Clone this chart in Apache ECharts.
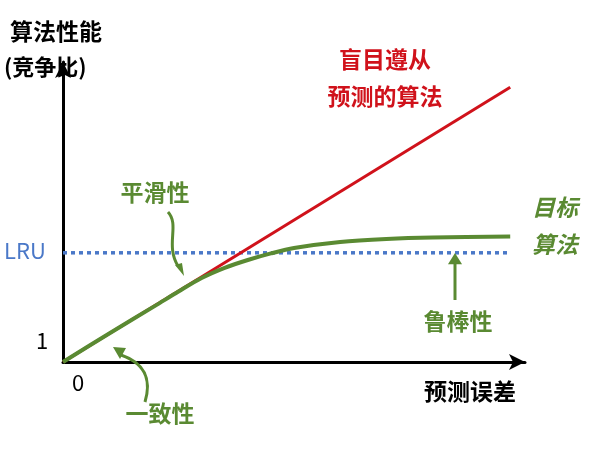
<!DOCTYPE html>
<html><head><meta charset="utf-8">
<script src="https://cdn.jsdelivr.net/npm/echarts@6/dist/echarts.min.js"></script>
<style>html,body{margin:0;padding:0;background:#fff}#c{width:590px;height:456px}</style>
</head><body><div id="c"></div>
<script>
const redLine = [[0,0],[9.68,9.16]];
const greenCurve = [[0,0],[1,0.95],[2,1.88],[2.5,2.35],[3,2.8],[3.5,3.14],[4,3.4],[4.5,3.62],[5,3.8],[6,4.0],[7,4.1],[8,4.15],[9.68,4.18]];
const lruValue = 3.64;
const lruLine = [[0,lruValue],[9.68,lruValue]];
const F = '"Noto Sans CJK SC", sans-serif';
const green = '#5a8a32', red = '#d0121b', blue = '#4a78c8';
const chart = echarts.init(document.getElementById('c'));
function arrowHead(x,y,dir){
  const s=7;
  let pts;
  if(dir==='up') pts=[[x,y],[x-s,y+s*1.6],[x+s,y+s*1.6]];
  else pts=[[x,y],[x-9,y-11],[x-2,y-13]];
  return {type:'polygon',shape:{points:pts},style:{fill:green},z:10};
}
chart.setOption({
  animation:false,
  grid:{left:63,top:62,width:462,height:300},
  xAxis:{type:'value',min:0,max:10,axisLine:{lineStyle:{color:'#000',width:3},symbol:['none','arrow'],symbolSize:[12,16]},axisTick:{show:false},axisLabel:{show:false},splitLine:{show:false}},
  yAxis:{type:'value',min:0,max:10,axisLine:{show:true,lineStyle:{color:'#000',width:3},symbol:['none','arrow'],symbolSize:[12,16]},axisTick:{show:false},axisLabel:{show:false},splitLine:{show:false}},
  series:[
    {type:'line',data:lruLine,symbol:'none',lineStyle:{color:blue,width:3.5,type:[4,4]}},
    {type:'line',data:redLine,symbol:'none',lineStyle:{color:red,width:3}},
    {type:'line',data:greenCurve,symbol:'none',smooth:0.3,lineStyle:{color:green,width:4}}
  ],
  graphic:[
    {type:'text',left:10,top:20,style:{text:'算法性能',font:'bold 23px '+F,fill:'#000'}},
    {type:'text',left:4,top:56,style:{text:'(竞争比)',font:'bold 22px '+F,fill:'#000'}},
    {type:'text',left:4,top:240,style:{text:'LRU',font:'22px '+F,fill:blue}},
    {type:'text',left:36,top:330,style:{text:'1',font:'22px '+F,fill:'#000'}},
    {type:'text',left:72,top:372,style:{text:'0',font:'22px '+F,fill:'#000'}},
    {type:'text',left:424,top:380,style:{text:'预测误差',font:'bold 23px '+F,fill:'#000'}},
    {type:'text',x:385,y:48,style:{text:'盲目遵从',align:'center',font:'bold 23px '+F,fill:red}},
    {type:'text',x:385,y:85,style:{text:'预测的算法',align:'center',font:'bold 23px '+F,fill:red}},
    {type:'text',x:555,y:196,style:{text:'目标',align:'center',font:'italic bold 23px '+F,fill:green}},
    {type:'text',x:555,y:233,style:{text:'算法',align:'center',font:'italic bold 23px '+F,fill:green}},
    {type:'text',x:155,y:181,style:{text:'平滑性',align:'center',font:'bold 23px '+F,fill:green}},
    {type:'text',x:458,y:310,style:{text:'鲁棒性',align:'center',font:'bold 23px '+F,fill:green}},
    {type:'text',x:160,y:402,style:{text:'一致性',align:'center',font:'bold 23px '+F,fill:green}},
    {type:'bezierCurve',shape:{x1:168,y1:212,cpx1:180,cpy1:225,cpx2:165,cpy2:245,x2:178,y2:266},style:{stroke:green,lineWidth:3,fill:null},z:10},
    arrowHead(184,276,'downright'),
    {type:'line',shape:{x1:455,y1:300,x2:455,y2:264},style:{stroke:green,lineWidth:3},z:10},
    arrowHead(455,253,'up'),
    {type:'bezierCurve',shape:{x1:145,y1:402,cpx1:150,cpy1:385,cpx2:150,cpy2:365,x2:121,y2:355},style:{stroke:green,lineWidth:3,fill:null},z:10},
    {type:'polygon',shape:{points:[[113,347],[126,348],[120,359]]},style:{fill:green},z:10}
  ]
});
</script></body></html>
